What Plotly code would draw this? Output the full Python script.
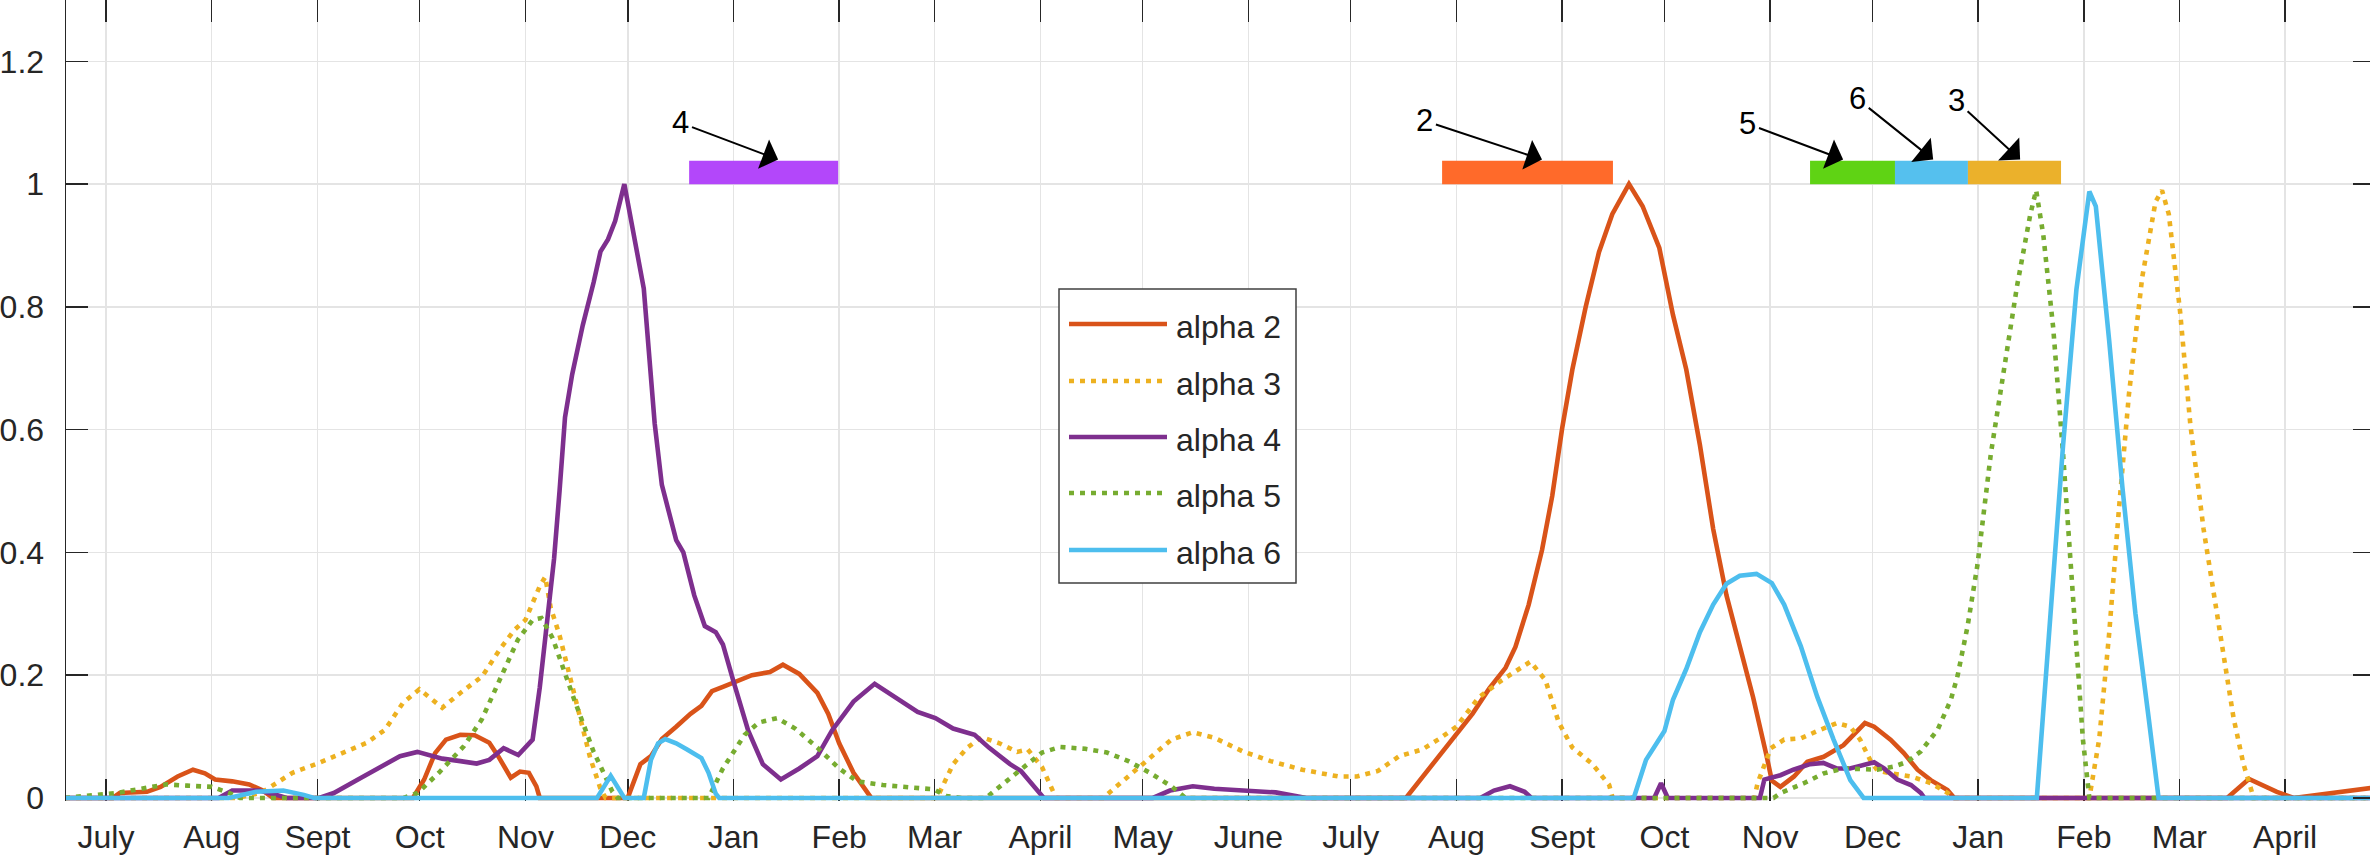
import plotly.graph_objects as go

# ---------------- data (x = days since 1 July of the first year) ----------------
month_days = [0, 31, 62, 92, 123, 153, 184, 215, 243, 274, 304, 335,
              365, 396, 427, 457, 488, 518, 549, 580, 608, 639]
month_labels = ["July", "Aug", "Sept", "Oct", "Nov", "Dec", "Jan", "Feb", "Mar", "April", "May", "June",
                "July", "Aug", "Sept", "Oct", "Nov", "Dec", "Jan", "Feb", "Mar", "April"]

series_names = ["alpha 2", "alpha 3", "alpha 4", "alpha 5", "alpha 6"]
series_colors = ["#D95319", "#EDB120", "#7E2F8E", "#77AC30", "#4DBEEE"]
series_dash = ["solid", "5px,6px", "solid", "5px,6px", "solid"]

a2_day = [-12, 2, 4, 12, 16, 21, 25.5, 29, 32, 37, 42, 46, 49,
          90, 93.3, 96.5, 99.7, 103.9, 108.1, 112.4, 115, 118.7, 121.4, 124, 126.2, 127.2,
          153, 156.7, 159.8, 163, 167.2, 171.4, 174.6, 177.7, 180.9, 185.1, 189.4, 194.7, 198.5, 203.3,
          208.6, 211.8, 215, 219.2, 224.4,
          381.2, 386, 390.9, 396, 400.7, 405.6, 410.4, 413.3, 417.2, 421.1, 424.1, 427, 430, 433.9, 437.8,
          441.7, 446.6, 450.6, 455.5, 459.5, 463.4, 467.4, 471.3, 475.2, 479.1, 483, 486.9, 488.5, 491, 495,
          498.9, 503.7, 509.5, 515.8, 518.5, 523.3, 527.2, 531.2, 535.1, 540, 542,
          622, 628.4, 636.6, 641.5, 645.5, 651.6, 664.7, 668]
a2_val = [0, 0, 0.008, 0.01, 0.018, 0.035, 0.046, 0.04, 0.03, 0.027, 0.022, 0.012, 0,
          0, 0.03, 0.073, 0.095, 0.103, 0.102, 0.09, 0.068, 0.033, 0.043, 0.041, 0.019, 0,
          0, 0.055, 0.068, 0.096, 0.116, 0.137, 0.15, 0.174, 0.181, 0.19, 0.2, 0.205, 0.217, 0.202,
          0.171, 0.137, 0.089, 0.041, 0,
          0, 0.034, 0.068, 0.103, 0.137, 0.178, 0.212, 0.246, 0.315, 0.404, 0.492, 0.602, 0.698, 0.80, 0.889,
          0.951, 1.0, 0.964, 0.896, 0.787, 0.698, 0.575, 0.438, 0.33, 0.246, 0.164, 0.07, 0.028, 0.018, 0.035,
          0.059, 0.067, 0.086, 0.122, 0.116, 0.095, 0.073, 0.046, 0.029, 0.013, 0,
          0, 0.031, 0.01, 0, 0.003, 0.007, 0.017, 0.019]

a3_day = [-12, 38, 45.4, 49.6, 54.7, 62, 69.1, 76.5, 81.8, 87.1, 91.9, 95.5, 98.6, 103.9, 110.3, 115.5,
          119.8, 123, 127.2, 128.8, 130.4, 133, 136, 139, 142, 145, 146.5,
          243.5, 244.3, 248.4, 252.6, 256.8, 262, 267.2, 270.3, 274.5, 277.6, 278.6,
          292.4, 298.7, 306.1, 312.4, 318.7, 325, 333.3, 341.5, 350.8, 361.3, 366.8, 373, 379.2, 386, 390.9,
          396, 402.6, 409.4, 417.7, 422.1, 426, 430, 435.9, 440.8, 441.8,
          483.4, 484.3, 488.2, 492.1, 497, 502.7, 507.6, 511.5, 514.4, 517.3, 519.4, 523.3, 529.3, 535.2,
          540.1, 541.5,
          581.6, 584.5, 587.4, 590.3, 593.2, 597.1, 601, 602.9, 604.9, 608.2, 611.2, 615.1, 618, 621, 623.9,
          626.8, 628.8, 629.8, 668]
a3_val = [0, 0, 0.008, 0.022, 0.041, 0.056, 0.073, 0.09, 0.111, 0.155, 0.177, 0.16, 0.147, 0.171, 0.198, 0.242,
          0.274, 0.29, 0.345, 0.36, 0.31, 0.265, 0.2, 0.13, 0.065, 0.015, 0,
          0, 0.007, 0.055, 0.082, 0.099, 0.089, 0.075, 0.079, 0.05, 0.014, 0,
          0, 0.03, 0.063, 0.095, 0.107, 0.098, 0.076, 0.06, 0.046, 0.035, 0.035, 0.044, 0.068, 0.079, 0.096,
          0.116, 0.164, 0.192, 0.222, 0.192, 0.123, 0.082, 0.055, 0.021, 0,
          0, 0.024, 0.081, 0.095, 0.097, 0.111, 0.122, 0.116, 0.095, 0.062, 0.045, 0.04, 0.035, 0.024,
          0.008, 0,
          0, 0.096, 0.267, 0.472, 0.657, 0.848, 0.971, 0.99, 0.951, 0.793, 0.609, 0.438, 0.335, 0.233, 0.13,
          0.055, 0.014, 0, 0]

a4_day = [-12, 33, 37, 45, 50, 53,
          62.5, 66.8, 73.9, 81.1, 86.2, 91.3, 94.4, 98.6, 103.9, 108.7, 112.4, 116.6, 120.9, 125.1, 127.2,
          129.3, 131.4, 133, 134.6, 136.7, 139.8, 143, 145, 147.2, 149.3, 152,
          154.6, 157.7, 160.9, 163, 167.2, 169.3, 172.5, 175.6, 178.8, 180.9, 184, 188.3, 192.6, 197.9, 203.3,
          208.6, 212.9, 219.2, 225.4, 231.7, 238, 243.2, 248.4, 254.7, 258.9, 265.1, 268.3, 275,
          307, 312, 318.7, 325, 335.3, 343, 352,
          403, 407, 411.7, 416, 418,
          454, 456, 458,
          485, 486.3, 491, 494.8, 499.7, 503.6, 507.5, 511.4, 515.3, 518.5, 521.4, 525.3, 529.3, 532.2, 533.2, 668]
a4_val = [0, 0, 0.012, 0.012, 0.005, 0,
          0, 0.008, 0.03, 0.052, 0.068, 0.075, 0.07, 0.064, 0.06, 0.056, 0.062, 0.081, 0.07, 0.095, 0.18,
          0.285, 0.39, 0.5, 0.62, 0.69, 0.77, 0.84, 0.89, 0.91, 0.94, 1.0,
          0.92, 0.83, 0.61, 0.51, 0.42, 0.40, 0.33, 0.28, 0.27, 0.25, 0.19, 0.11, 0.055, 0.03, 0.048,
          0.068, 0.11, 0.157, 0.186, 0.164, 0.14, 0.13, 0.113, 0.103, 0.082, 0.055, 0.044, 0,
          0, 0.012, 0.019, 0.015, 0.0125, 0.009, 0,
          0, 0.012, 0.019, 0.01, 0,
          0, 0.024, 0,
          0, 0.03, 0.037, 0.046, 0.055, 0.057, 0.048, 0.048, 0.054, 0.058, 0.048, 0.03, 0.021, 0.008, 0, 0]

a5_day = [-12, 3, 10.3, 17.6, 23.8, 31, 36.2, 39.3,
          87.3, 91.4, 97.6, 104.9, 110.2, 115.5, 120.8, 125.1, 127.7, 131, 134, 137, 140, 143, 146, 148.5, 150,
          176.7, 180.9, 187.3, 191.5, 196.8, 202.1, 208.6, 215, 220.3, 227.8, 236.3, 242.7, 246.5, 250.8,
          258, 262, 268.2, 274.5, 279.8, 287.2, 293.5, 299.8, 306.1, 312.4, 316.6,
          489, 491.1, 497.9, 503.7, 509.5, 515.3, 519.4, 524.3, 528.2, 532.2, 537.1, 541, 543, 545.9, 548.8,
          552.7, 556.6, 560.4, 564.3, 566, 568.1, 571, 573.9, 576.8, 579.7, 581.6, 668]
a5_val = [0, 0.008, 0.015, 0.022, 0.02, 0.018, 0.008, 0,
          0, 0.008, 0.041, 0.084, 0.128, 0.193, 0.258, 0.29, 0.293, 0.26, 0.21, 0.165, 0.12, 0.075, 0.04, 0.01, 0,
          0, 0.048, 0.103, 0.123, 0.13, 0.113, 0.082, 0.048, 0.027, 0.021, 0.017, 0.014, 0.003, 0,
          0, 0.019, 0.046, 0.074, 0.083, 0.08, 0.074, 0.06, 0.041, 0.019, 0,
          0, 0.008, 0.024, 0.04, 0.048, 0.046, 0.046, 0.051, 0.059, 0.076, 0.111, 0.16, 0.2, 0.28, 0.38,
          0.56, 0.70, 0.834, 0.951, 0.99, 0.917, 0.766, 0.56, 0.335, 0.096, 0, 0]

a6_day = [-12, 36, 44, 52, 58, 61,
          144, 148, 152,
          157.7, 159.8, 161.9, 164, 167.2, 170.4, 174.6, 176.7, 178.8, 179.8,
          448, 451.6, 454.5, 457, 459.5, 463.4, 467.4, 471.3, 475.2, 479.1, 484, 488.5, 492.1, 497, 501.8,
          506.6, 511.5, 515.4,
          566.2, 570.1, 573.9, 577.8, 581.6, 583.5, 587.4, 591.3, 595.1, 599, 601.9, 668]
a6_val = [0, 0, 0.01, 0.012, 0.005, 0,
          0, 0.036, 0,
          0, 0.062, 0.089, 0.096, 0.089, 0.079, 0.065, 0.041, 0.007, 0,
          0, 0.062, 0.089, 0.109, 0.16, 0.21, 0.27, 0.315, 0.349, 0.362, 0.365, 0.35, 0.315, 0.247, 0.165,
          0.095, 0.029, 0,
          0, 0.301, 0.575, 0.828, 0.988, 0.964, 0.746, 0.506, 0.301, 0.13, 0, 0]

# highlighted periods at the top (label, start day, end day, colour, arrow-head day)
period_labels = ["4", "2", "5", "6", "3"]
period_start = [171.0, 391.8, 499.7, 524.6, 546.0]
period_end = [214.7, 441.9, 524.6, 546.0, 573.3]
period_colors = ["#B347FA", "#FF6A2A", "#5FD314", "#55C0EE", "#EBB12B"]
arrow_day = [197.1, 421.1, 509.4, 535.8, 561.3]

# ---------------- figure ----------------
W, H = 2370, 862
ML, MR, MT, MB = 66, 0, 0, 61
PW, PH = W - ML - MR, H - MT - MB
FONT = "Liberation Sans, Arial, Helvetica, sans-serif"
TXT = "#262626"
LW = 4.6


def px_x(px):
    return (px - ML) / PW


def px_y(py):
    return (H - MB - py) / PH


xs = [a2_day, a3_day, a4_day, a5_day, a6_day]
ys = [a2_val, a3_val, a4_val, a5_val, a6_val]
for a, b in zip(xs, ys):
    assert len(a) == len(b)

fig = go.Figure()
for name, xd, yd, col, dash in zip(series_names, xs, ys, series_colors, series_dash):
    fig.add_trace(go.Scatter(x=xd, y=yd, mode="lines", name=name,
                             line=dict(color=col, width=LW, dash=dash),
                             showlegend=False, hoverinfo="skip"))

# invisible traces for the mirrored tick axes
fig.add_trace(go.Scatter(x=[None], y=[None], xaxis="x2", yaxis="y", showlegend=False, hoverinfo="skip"))
fig.add_trace(go.Scatter(x=[None], y=[None], xaxis="x", yaxis="y2", showlegend=False, hoverinfo="skip"))

XR = [-11.73, 663.9]
YR = [-0.005, 1.3]
ytv = [0, 0.2, 0.4, 0.6, 0.8, 1.0, 1.2]
ytt = ["0", "0.2", "0.4", "0.6", "0.8", "1", "1.2"]

shapes = []
annotations = []

# period bars
for lab, s, e, c in zip(period_labels, period_start, period_end, period_colors):
    shapes.append(dict(type="rect", xref="x", yref="y", x0=s, x1=e, y0=1.0, y1=1.038,
                       fillcolor=c, line=dict(width=0), layer="above"))

# arrow labels: (text centre pixel offsets relative to arrow heads)
arrow_offsets = [(-98, -37), (-118, -39), (-96, -36), (-76, -61), (-64, -59)]
for lab, ad, (ax, ay) in zip(period_labels, arrow_day, arrow_offsets):
    annotations.append(dict(x=ad, y=1.04, xref="x", yref="y", text=lab, showarrow=True,
                            ax=ax, ay=ay, arrowhead=1, arrowsize=2.6, arrowwidth=2,
                            arrowcolor="black", standoff=0, startstandoff=2,
                            font=dict(family=FONT, size=31, color="black")))

# manual legend
shapes.append(dict(type="rect", xref="paper", yref="paper",
                   x0=px_x(1059), x1=px_x(1296), y0=px_y(583), y1=px_y(289),
                   fillcolor="white", line=dict(color="#404040", width=1.5), layer="above"))
leg_y = [324, 381, 437, 493, 550]
for name, col, dash, ly in zip(series_names, series_colors, series_dash, leg_y):
    shapes.append(dict(type="line", xref="paper", yref="paper",
                       x0=px_x(1069), x1=px_x(1167), y0=px_y(ly), y1=px_y(ly),
                       line=dict(color=col, width=LW, dash=dash), layer="above"))
    annotations.append(dict(x=px_x(1174), y=px_y(ly + 3), xref="paper", yref="paper",
                            text=name, showarrow=False, xanchor="left", yanchor="middle",
                            font=dict(family=FONT, size=32, color=TXT)))

fig.update_layout(
    width=W, height=H,
    margin=dict(l=ML, r=MR, t=MT, b=MB, pad=0, autoexpand=False),
    paper_bgcolor="white", plot_bgcolor="white",
    font=dict(family=FONT, size=32, color=TXT),
    xaxis=dict(range=XR, tickmode="array", tickvals=month_days, ticktext=month_labels,
               ticks="inside", ticklen=22, tickwidth=1.5, tickcolor=TXT,
               showline=False, mirror=False, automargin=False,
               showgrid=True, gridcolor="#e4e4e4", gridwidth=1.5, zeroline=False,
               layer="below traces",
               ticklabelstandoff=14, tickfont=dict(family=FONT, size=32, color=TXT)),
    yaxis=dict(range=YR, tickmode="array", tickvals=ytv, ticktext=ytt,
               ticks="inside", ticklen=22, tickwidth=1.5, tickcolor=TXT,
               showline=True, linecolor=TXT, linewidth=1.5, mirror=False, automargin=False,
               showgrid=True, gridcolor="#e4e4e4", gridwidth=1.5, zeroline=False,
               layer="below traces",
               ticklabelstandoff=14, tickfont=dict(family=FONT, size=32, color=TXT)),
    xaxis2=dict(range=XR, overlaying="x", side="top", anchor="y", tickmode="array",
                tickvals=month_days, ticks="inside", ticklen=22, tickwidth=1.5, tickcolor=TXT,
                showticklabels=False, showline=False, showgrid=False, zeroline=False, automargin=False),
    yaxis2=dict(range=YR, overlaying="y", side="right", anchor="x", tickmode="array",
                tickvals=ytv, ticks="inside", ticklen=17, tickwidth=1.5, tickcolor=TXT,
                showticklabels=False, showline=False, showgrid=False, zeroline=False, automargin=False),
    shapes=shapes,
    annotations=annotations,
    showlegend=False,
)

fig.write_html("out.html",
               config={"displayModeBar": False, "staticPlot": True},
               post_script="document.body.style.margin='0';document.body.style.padding='0';"
                           "document.body.style.overflow='hidden';")
